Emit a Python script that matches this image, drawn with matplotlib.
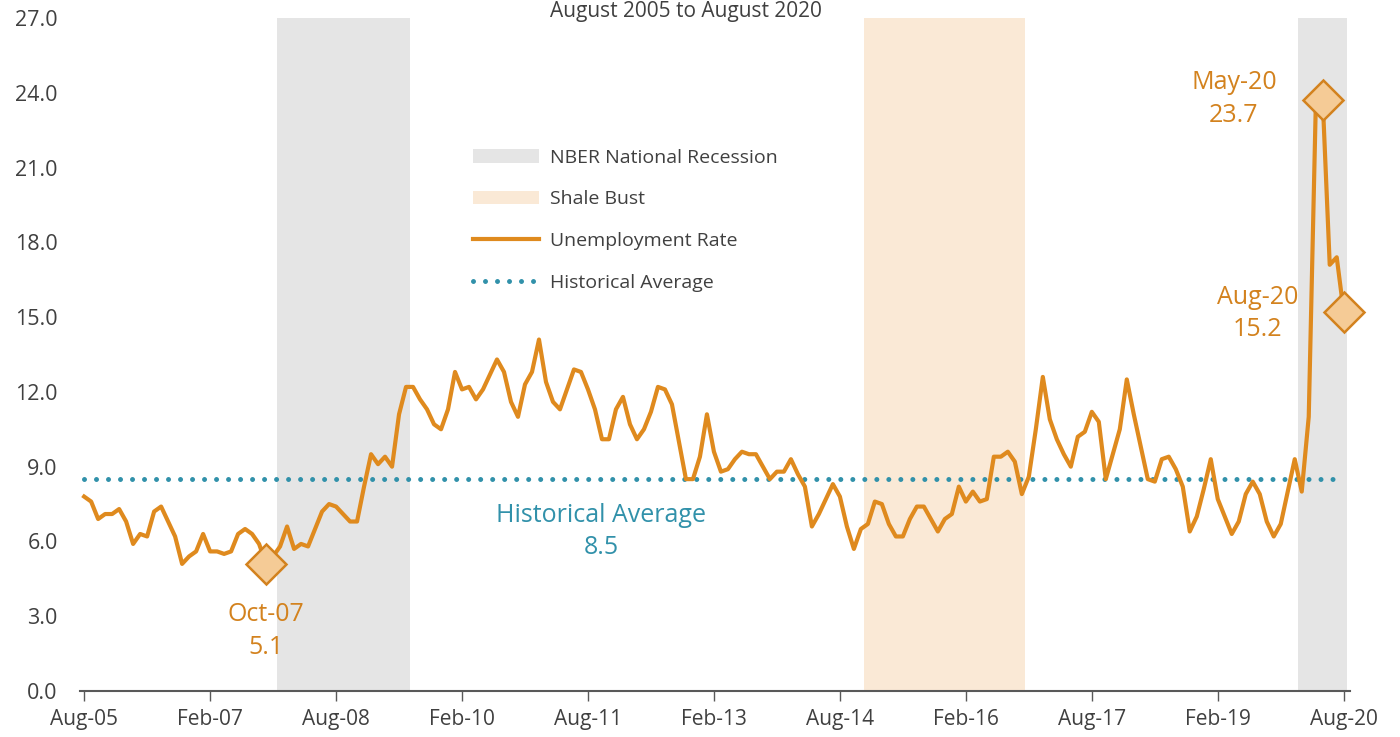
import matplotlib.pyplot as plt
import numpy as np
from matplotlib.patches import Patch
from matplotlib.lines import Line2D

plt.rcParams['font.family'] = ['Open Sans', 'DejaVu Sans']

# monthly unemployment rate, Aug-05 .. Aug-20
rate = [7.8, 7.6, 6.9, 7.1, 7.1, 7.3, 6.8, 5.9, 6.3, 6.2, 7.2, 7.4,
        6.8, 6.2, 5.1, 5.4, 5.6, 6.3, 5.6, 5.6, 5.5, 5.6, 6.3, 6.5,
        6.3, 5.9, 5.1, 5.4, 5.8, 6.6, 5.7, 5.9, 5.8, 6.5, 7.2, 7.5,
        7.4, 7.1, 6.8, 6.8, 8.2, 9.5, 9.1, 9.4, 9.0, 11.1, 12.2, 12.2,
        11.7, 11.3, 10.7, 10.5, 11.3, 12.8, 12.1, 12.2, 11.7, 12.1, 12.7, 13.3,
        12.8, 11.6, 11.0, 12.3, 12.8, 14.1, 12.4, 11.6, 11.3, 12.1, 12.9, 12.8,
        12.1, 11.3, 10.1, 10.1, 11.3, 11.8, 10.7, 10.1, 10.5, 11.2, 12.2, 12.1,
        11.5, 10.0, 8.5, 8.5, 9.4, 11.1, 9.6, 8.8, 8.9, 9.3, 9.6, 9.5,
        9.5, 9.0, 8.5, 8.8, 8.8, 9.3, 8.7, 8.2, 6.6, 7.1, 7.7, 8.3,
        7.8, 6.6, 5.7, 6.5, 6.7, 7.6, 7.5, 6.7, 6.2, 6.2, 6.9, 7.4,
        7.4, 6.9, 6.4, 6.9, 7.1, 8.2, 7.6, 8.0, 7.6, 7.7, 9.4, 9.4,
        9.6, 9.2, 7.9, 8.6, 10.5, 12.6, 10.9, 10.1, 9.5, 9.0, 10.2, 10.4,
        11.2, 10.8, 8.5, 9.5, 10.5, 12.5, 11.1, 9.8, 8.5, 8.4, 9.3, 9.4,
        8.9, 8.2, 6.4, 7.0, 8.1, 9.3, 7.7, 7.0, 6.3, 6.8, 7.9, 8.4,
        7.9, 6.8, 6.2, 6.7, 8.0, 9.3, 8.0, 11.0, 23.4, 23.7, 17.1, 17.4,
        15.2]
hist_avg = 8.5

tick_labels = ['Aug-05', 'Feb-07', 'Aug-08', 'Feb-10', 'Aug-11', 'Feb-13',
               'Aug-14', 'Feb-16', 'Aug-17', 'Feb-19', 'Aug-20']
# (start month, end month) from Aug-05
recessions = [(28, 46), (174, 180)]
shale_bust = (112, 134)
# highlighted points: month index, label
highlights = [(26, 'Oct-07'), (177, 'May-20'), (180, 'Aug-20')]

orange = '#DF8A1E'
dark_orange = '#D3821E'
teal = '#3191AA'
text_gray = '#404040'

x = np.arange(len(rate))

fig = plt.figure(figsize=(14, 7.37), dpi=100)
ax = fig.add_axes([0.0571, 0.0624, 0.9072, 0.9132])

for s, e in recessions:
    ax.axvspan(s - 0.5, e + 0.5, color='#E5E5E5', lw=0, zorder=0)
ax.axvspan(shale_bust[0] - 0.5, shale_bust[1] + 0.5, color='#FAE9D6', lw=0, zorder=0)

ax.plot([x[0], x[-1]], [hist_avg, hist_avg], color=teal, lw=3.6,
        linestyle=(0, (0.001, 2.4)), dash_capstyle='round', zorder=2)
ax.plot(x, rate, color=orange, lw=3, zorder=3)

for m, lab in highlights:
    ax.plot(m, rate[m], marker='D', ms=20, mfc='#F5CB96', mec=dark_orange,
            mew=1.8, zorder=4, clip_on=False)

ann = dict(color=dark_orange, fontsize=18, ha='center', va='center',
           linespacing=1.4)
ax.text(26, 2.4, 'Oct-07\n5.1', **ann)
ax.text(164.3, 23.75, 'May-20\n23.7', **ann)
ax.text(167.7, 15.15, 'Aug-20\n15.2', **ann)
ax.text(73.9, 6.4, 'Historical Average\n8.5', color=teal, fontsize=18,
        ha='center', va='center', linespacing=1.4)

ax.set_xlim(-0.6, 180.9)
ax.set_ylim(0, 27)
ax.set_yticks(np.arange(0, 27.1, 3))
ax.yaxis.set_major_formatter(plt.FormatStrFormatter('%.1f'))
ax.set_xticks(np.arange(0, 181, 18))
ax.set_xticklabels(tick_labels)
ax.tick_params(axis='y', length=0, pad=16, labelsize=15.5, labelcolor=text_gray)
ax.tick_params(axis='x', length=7, width=1, color='#595959', pad=6,
               labelsize=15, labelcolor=text_gray)
for sp in ['top', 'right', 'left']:
    ax.spines[sp].set_visible(False)
ax.spines['bottom'].set_color('#595959')
ax.spines['bottom'].set_linewidth(1.5)

handles = [Patch(color='#E5E5E5', lw=0),
           Patch(color='#FAE9D6', lw=0),
           Line2D([], [], color=orange, lw=3),
           Line2D([], [], color=teal, lw=3.6, linestyle=(0, (0.001, 2.4)),
                  dash_capstyle='round')]
labels = ['NBER National Recession', 'Shale Bust', 'Unemployment Rate',
          'Historical Average']
leg = fig.legend(handles, labels, loc='upper left',
                 bbox_to_anchor=(0.325, 0.822), frameon=False, fontsize=14,
                 handlelength=3.4, handleheight=0.7, handletextpad=0.6,
                 labelspacing=1.22)
for t in leg.get_texts():
    t.set_color(text_gray)

fig.text(0.49, 0.998, 'August 2005 to August 2020', ha='center',
         va='top', fontsize=15, color=text_gray)

fig.savefig('out.png', dpi=100)
